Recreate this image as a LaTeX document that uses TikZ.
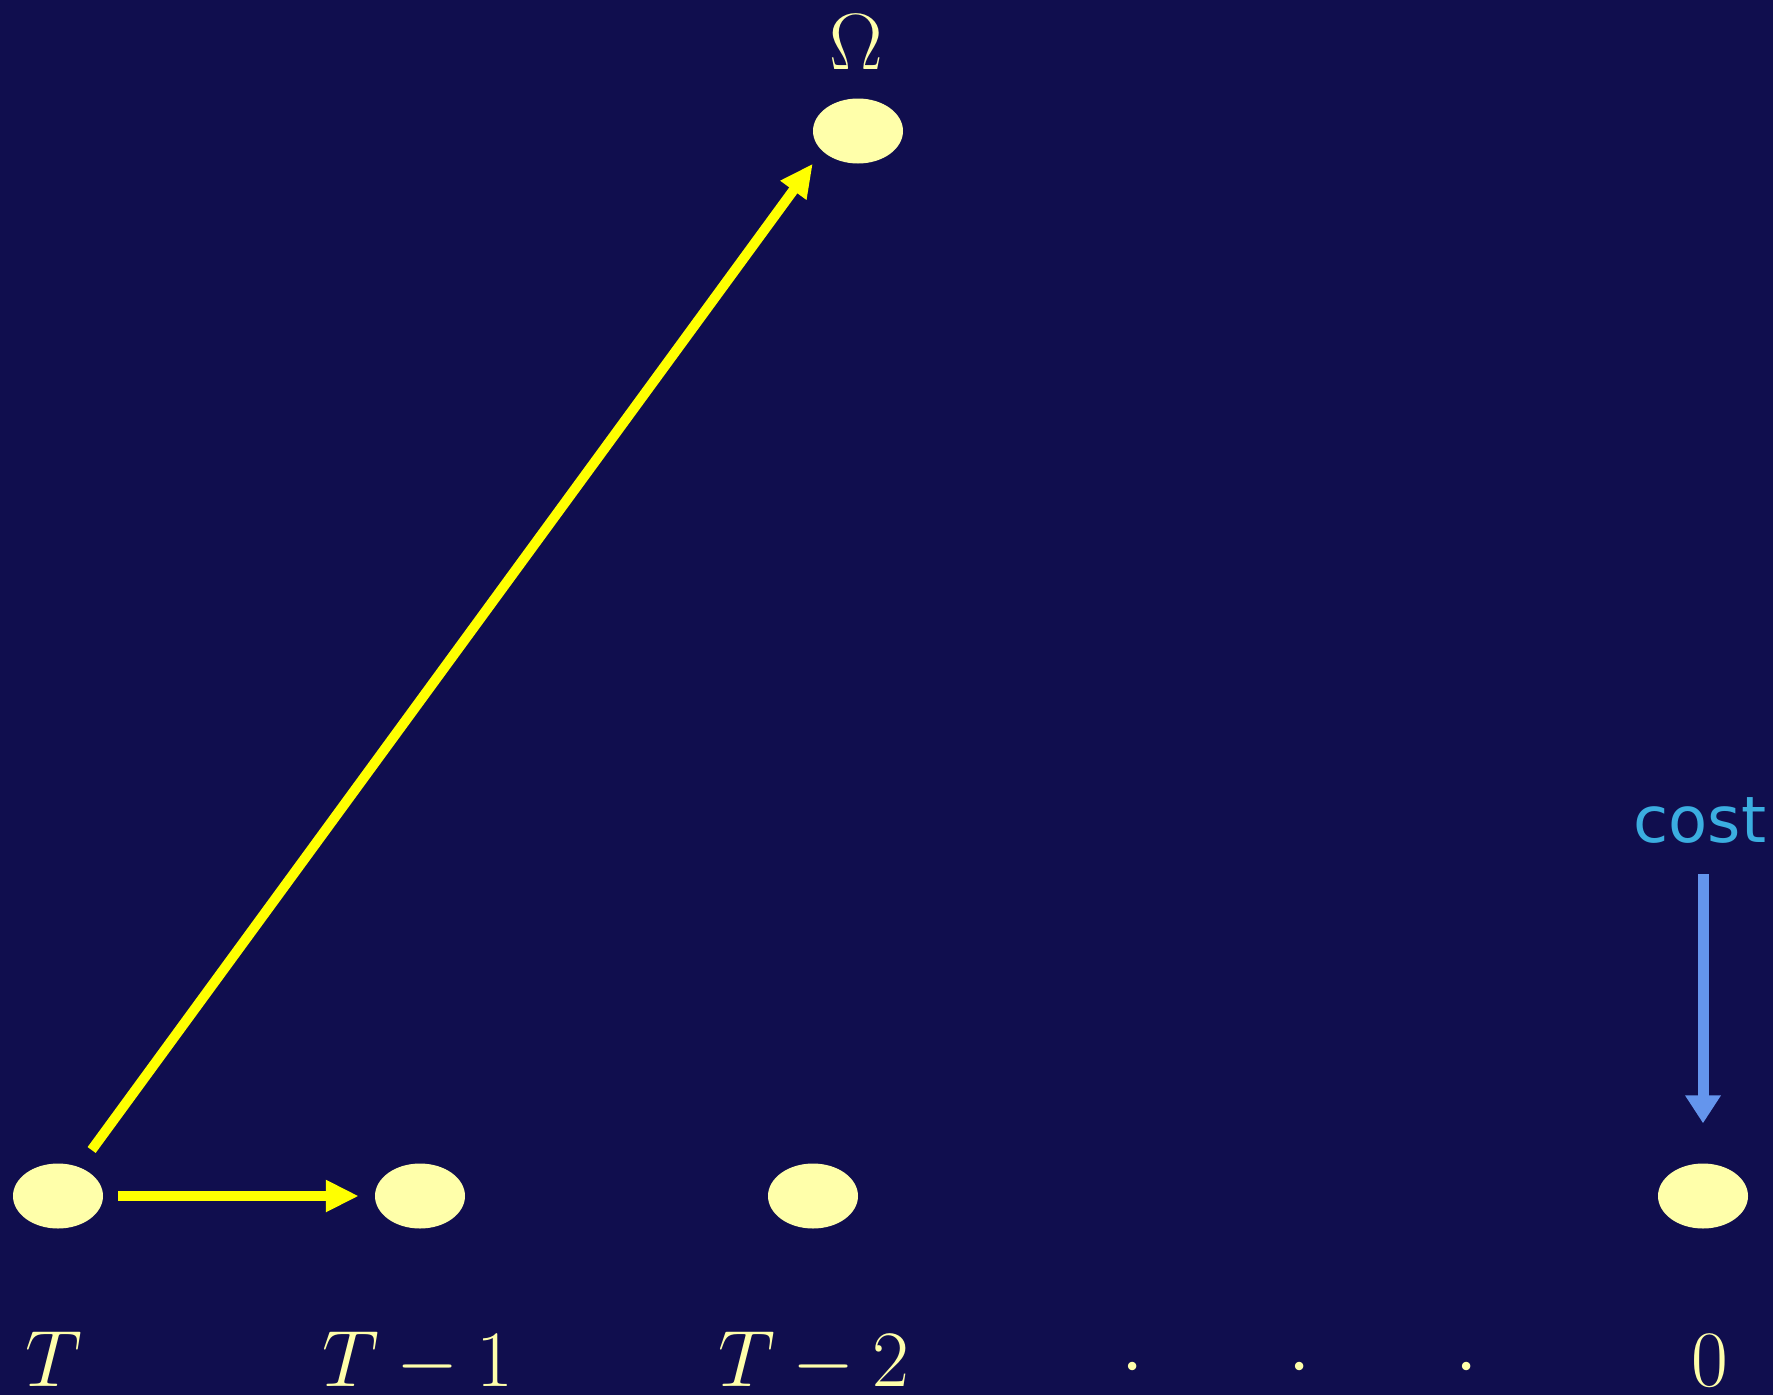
\documentclass[tikz,border=0pt]{standalone}
\usepackage{fix-cm}
\usepackage{fontspec}
\newfontfamily\costfont{DejaVu Sans}
\usetikzlibrary{arrows.meta,shapes.geometric,calc}
\definecolor{bgnavy}{RGB}{16,14,78}
\definecolor{paleyel}{RGB}{255,255,170}
\definecolor{arryel}{RGB}{255,255,0}
\definecolor{arrblue}{RGB}{100,149,237}
\definecolor{costblue}{RGB}{59,174,224}
\tikzset{
  state/.style={ellipse,fill=paleyel,draw=none,minimum width=90pt,minimum height=65pt,inner sep=0pt},
  lab/.style={text=paleyel,anchor=base,inner sep=0pt,font=\fontsize{80}{96}\selectfont},
  yarrow/.style={draw=arryel,line width=10pt,-{Triangle[length=33pt,width=30pt]}},
  barrow/.style={draw=arrblue,line width=11pt,-{Triangle[length=28pt,width=34pt]}}
}
\begin{document}
\begin{tikzpicture}[x=1pt,y=-1pt]
\fill[bgnavy] (0,0) rectangle (1773,1395);
\useasboundingbox (0,0) rectangle (1773,1395);
% states
\node[state] (T)  at (58,1196) {};
\node[state] (T1) at (420,1196) {};
\node[state] (T2) at (813,1196) {};
\node[state] (Z)  at (1703,1196) {};
\node[state] (Om) at (858,131) {};
% labels
\node[lab] (lT)  at (54,1386) {$T$};
\node[lab] (lT1) at (418,1386) {$T-1$};
\node[lab] (lT2) at (814,1386) {$T-2$};
\node[lab] (ldots) at (1300,1386) {$\cdot\hspace{127pt}\cdot\hspace{127pt}\cdot$};
\node[lab] (lZ)  at (1710,1386) {$0$};
\node[lab] (lOm) at (856,69) {$\Omega$};
\node[anchor=base,inner sep=0pt,text=costblue,font=\costfont\fontsize{64}{76}\selectfont] (cost) at (1700,842) {cost};
% connectors
\coordinate (OmSW) at (Om.west |- Om.south);
\draw[yarrow,shorten <=15pt,shorten >=16pt] (T.east) -- (T1.west);
\draw[yarrow,shorten <=57pt] (T.center) -- (OmSW);
\draw[barrow,shorten <=31pt,shorten >=40pt] (cost.south -| Z.north) -- (Z.north);
\end{tikzpicture}
\end{document}
